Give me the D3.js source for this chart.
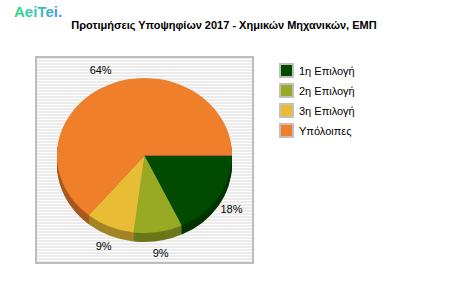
<!DOCTYPE html>
<html>
<head>
<meta charset="utf-8">
<script src="https://cdn.jsdelivr.net/npm/d3@7"></script>
<style>
  body { margin: 0; background: #fff; }
  text { font-family: "Liberation Sans", Arial, sans-serif; }
</style>
</head>
<body>
<div id="chart"></div>
<script>
const categories = ["1η Επιλογή", "2η Επιλογή", "3η Επιλογή", "Υπόλοιπες"];
const values = [18, 9, 9, 64];
const colors = ["#004b00", "#98aa24", "#e8bc34", "#ef7f2b"];
const title = "Προτιμήσεις Υποψηφίων 2017 - Χημικών Μηχανικών, ΕΜΠ";

const svg = d3.select("#chart")
  .append("svg")
  .attr("width", 450)
  .attr("height", 300);

const defs = svg.append("defs");

// striped plot background
const stripes = defs.append("pattern")
  .attr("id", "stripes")
  .attr("patternUnits", "userSpaceOnUse")
  .attr("width", 4)
  .attr("height", 3);
stripes.append("rect").attr("width", 4).attr("height", 3).attr("fill", "#ffffff");
stripes.append("rect").attr("width", 4).attr("height", 2).attr("fill", "#ebebeb");

const logoGrad = defs.append("linearGradient")
  .attr("id", "logoGrad")
  .attr("x1", "0%").attr("x2", "100%");
logoGrad.append("stop").attr("offset", "0%").attr("stop-color", "#2fd884");
logoGrad.append("stop").attr("offset", "50%").attr("stop-color", "#3cc6b0");
logoGrad.append("stop").attr("offset", "100%").attr("stop-color", "#4a8cf0");

// logo
svg.append("text")
  .attr("x", 14)
  .attr("y", 17)
  .attr("font-size", 15)
  .attr("font-weight", "bold")
  .attr("fill", "url(#logoGrad)")
  .text("AeiTei.");

// title
svg.append("text")
  .attr("x", 224)
  .attr("y", 29)
  .attr("text-anchor", "middle")
  .attr("font-size", 11)
  .attr("font-weight", "bold")
  .attr("fill", "#000")
  .text(title);

// plot box
const box = { x: 35, y: 56, w: 219, h: 208 };
svg.append("rect")
  .attr("x", box.x).attr("y", box.y)
  .attr("width", box.w).attr("height", box.h)
  .attr("fill", "url(#stripes)");
svg.append("rect")
  .attr("x", box.x + 1).attr("y", box.y + 1)
  .attr("width", box.w - 2).attr("height", box.h - 2)
  .attr("fill", "none")
  .attr("stroke", "#bdbdbd")
  .attr("stroke-width", 2);

// pie
const cx = 144.5, cy = 155.5, rx = 87.5, ry = 77.5, depth = 9;

const pie = d3.pie()
  .sort(null)
  .startAngle(Math.PI / 2)
  .endAngle(Math.PI / 2 + 2 * Math.PI);

const arcs = pie(values);
const arc = d3.arc().innerRadius(0).outerRadius(rx);

const g = svg.append("g");

// sides: stacked, shifted copies of each slice
for (let k = depth; k >= 1; k--) {
  g.append("g")
    .attr("transform", `translate(${cx},${cy + k}) scale(1,${ry / rx})`)
    .selectAll("path")
    .data(arcs)
    .join("path")
    .attr("d", arc)
    .attr("fill", (d, i) => d3.color(colors[i]).darker(1));
}

// top faces
g.append("g")
  .attr("transform", `translate(${cx},${cy}) scale(1,${ry / rx})`)
  .selectAll("path")
  .data(arcs)
  .join("path")
  .attr("d", arc)
  .attr("fill", (d, i) => colors[i]);

// slice labels
const lrx = 103, lry = 97;
svg.append("g")
  .selectAll("text")
  .data(arcs)
  .join("text")
  .attr("x", d => {
    const a = (d.startAngle + d.endAngle) / 2;
    return cx + lrx * Math.sin(a);
  })
  .attr("y", d => {
    const a = (d.startAngle + d.endAngle) / 2;
    return cy + 3 - lry * Math.cos(a);
  })
  .attr("text-anchor", "middle")
  .attr("dominant-baseline", "middle")
  .attr("font-size", 11)
  .attr("fill", "#000")
  .text(d => d.data + "%");

// legend
const legend = svg.append("g")
  .attr("transform", "translate(279,63)");

const rows = legend.selectAll("g")
  .data(categories)
  .join("g")
  .attr("transform", (d, i) => `translate(0,${i * 20})`);

rows.append("rect")
  .attr("x", 0).attr("y", 0)
  .attr("width", 15).attr("height", 15)
  .attr("fill", "#c0c0c0");
rows.append("rect")
  .attr("x", 2).attr("y", 2)
  .attr("width", 11).attr("height", 11)
  .attr("fill", (d, i) => colors[i]);
rows.append("text")
  .attr("x", 20)
  .attr("y", 12)
  .attr("font-size", 11)
  .attr("fill", "#000")
  .text(d => d);
</script>
</body>
</html>
